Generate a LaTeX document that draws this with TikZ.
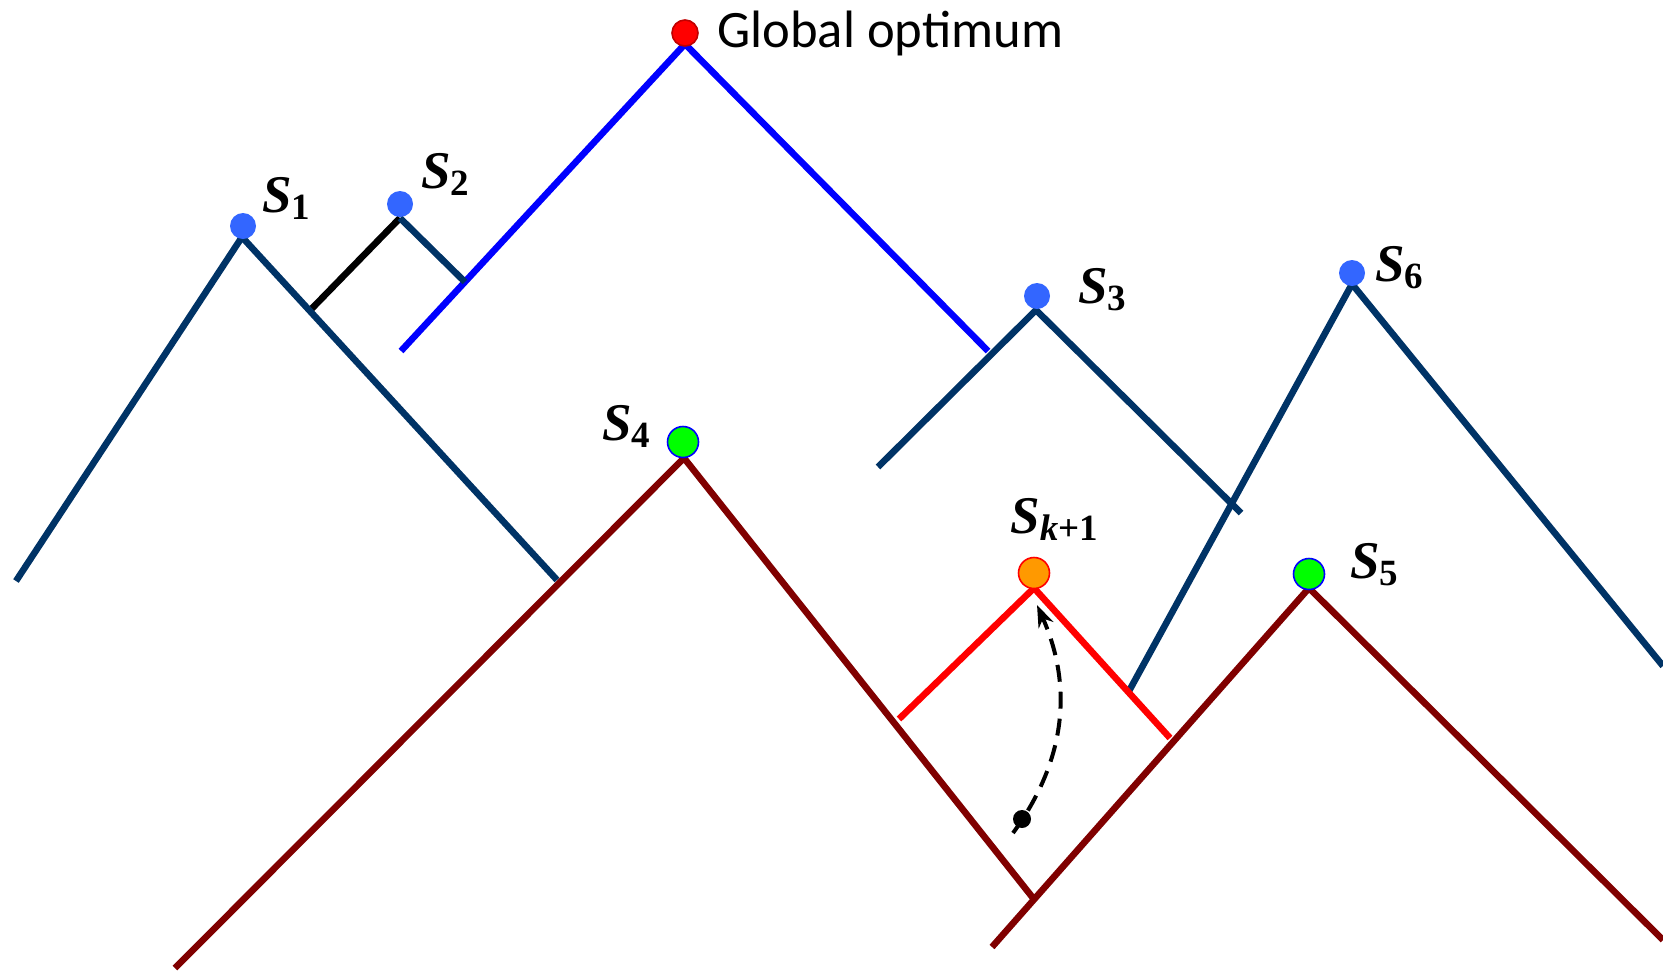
\documentclass[tikz,border=0pt]{standalone}
\usepackage{fontspec}
\setmainfont{Liberation Serif}
\newfontfamily\optfont{Carlito}
\newfontfamily\peakfont{Liberation Serif}
\usetikzlibrary{
  calc,
  positioning,
  arrows.meta}
\definecolor{ridgenavy}{RGB}{0,51,102}
\definecolor{ridgeblue}{RGB}{0,0,255}
\definecolor{ridgedark}{RGB}{128,0,0}
\definecolor{ridgered}{RGB}{255,0,0}
\definecolor{peakblue}{RGB}{51,102,255}
\definecolor{peakgreen}{RGB}{0,255,0}
\definecolor{peakorange}{RGB}{255,153,0}
\definecolor{peakrim}{RGB}{192,0,0}
\newcommand\ssub[1]{\raisebox{-3.5pt}{\fontsize{18.5}{18}\selectfont\upshape #1}}

\begin{document}
\begin{tikzpicture}[
  x=0.5pt, y=-0.5pt,
  >={Stealth[length=11pt,width=8pt]},
  ridge/.style={line width=3.3pt},
  peakdot/.style={circle,inner sep=0pt,minimum size=13pt,fill=peakblue},
  bestdot/.style={circle,inner sep=0pt,minimum size=15.5pt,line width=0.8pt},
  slabel/.style={anchor=base west,inner sep=0pt,font=\peakfont\fontsize{26.5}{27}\selectfont\bfseries\itshape}
]%
  \useasboundingbox (0,0) rectangle (1663,971);

  \coordinate (pG) at (685,44);
  \coordinate (bL) at (401,351);
  \coordinate (bR) at (988,351);

  \coordinate (p1) at (242,237);
  \coordinate (a1) at (16,581);
  \coordinate (b1) at (557,580);
  \coordinate (j1) at ($(p1)!0.215!(b1)$);
  \coordinate (p2) at (400,218);
  \coordinate (j2) at ($(pG)!0.775!(bL)$);

  \coordinate (p3) at (1036,310);
  \coordinate (a3) at (878,467);
  \coordinate (b3) at (1241,513);

  \coordinate (p6) at (1352,284);
  \coordinate (a6) at (1129,691);
  \coordinate (b6) at (1663,666);

  \coordinate (p4) at (684,458);
  \coordinate (a4) at (175,968);
  \coordinate (b4) at (1033,898);

  \coordinate (p5) at (1309,588);
  \coordinate (a5) at (992,947);
  \coordinate (b5) at (1663,940);

  \coordinate (pK) at (1034,588);
  \coordinate (aK) at (899,719);
  \coordinate (bK) at (1170,738);

  \draw[ridge,color=ridgeblue]  (bL) -- (pG) -- (bR);
  \draw[ridge,color=black]      (j1) -- (p2);
  \draw[ridge,color=ridgenavy]  (a1) -- (p1) -- (b1);
  \draw[ridge,color=ridgenavy]  (p2) -- (j2);
  \draw[ridge,color=ridgenavy]  (a3) -- (p3) -- (b3);
  \draw[ridge,color=ridgenavy]  (a6) -- (p6) -- (b6);
  \draw[ridge,color=ridgedark]  (a4) -- (p4) -- (b4);
  \draw[ridge,color=ridgedark]  (a5) -- (p5) -- (b5);
  \draw[ridge,color=ridgered]   (aK) -- (pK) -- (bK);

  \node[bestdot,fill=ridgered,draw=peakrim,minimum size=13pt] (dG) at (685,33) {};
  \node[peakdot] (dS1) at (243,226) {};
  \node[peakdot] (dS2) at (400,204) {};
  \node[peakdot] (dS3) at (1037,296) {};
  \node[peakdot] (dS6) at (1352,273) {};
  \node[bestdot,fill=peakgreen,draw=ridgeblue] (dS4) at (683,442) {};
  \node[bestdot,fill=peakgreen,draw=ridgeblue] (dS5) at (1309,574) {};
  \node[bestdot,fill=peakorange,draw=ridgered] (dSK) at (1034,573) {};

  \node[anchor=base west,inner sep=0pt,font=\optfont\fontsize{26.3}{27}\selectfont] (lG) at (717,47) {Global optimum};
  \node[slabel] (lS1) at (262,212) {S\ssub{1}};
  \node[slabel] (lS2) at (421,188) {S\ssub{2}};
  \node[slabel] (lS3) at (1078,303) {S\ssub{3}};
  \node[slabel] (lS6) at (1375,281) {S\ssub{6}};
  \node[slabel] (lS4) at (602,440) {S\ssub{4}};
  \node[slabel] (lSK) at (1010,533) {S\ssub{\itshape k\upshape +1}};
  \node[slabel] (lS5) at (1350,578) {S\ssub{5}};

  \coordinate (tail) at (1013,833);
  \coordinate (tip) at (1037,605);
  \draw[->,line width=2pt,dash pattern=on 8.5pt off 5pt] (tail) to[bend right=30] (tip);
  \node[circle,fill=black,inner sep=0pt,minimum size=9pt] (start) at (1022,819) {};

\end{tikzpicture}
\end{document}
